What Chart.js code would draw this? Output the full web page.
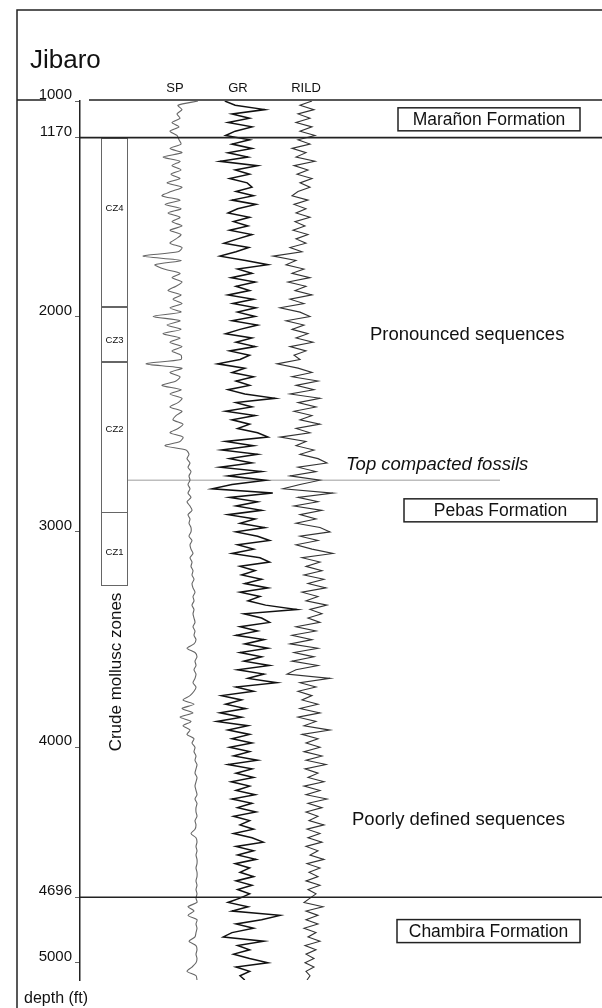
<!DOCTYPE html>
<html>
<head>
<meta charset="utf-8">
<script src="https://cdn.jsdelivr.net/npm/chart.js@4.4.1/dist/chart.umd.min.js"></script>
<style>
  body { margin: 0; background: #fff; }
  canvas { display: block; }
</style>
</head>
<body>
<canvas id="log-chart" width="602" height="1008"></canvas>
<script>
// well Jibaro, logs sampled every 20 ft from 1000 ft down
const wellName = "Jibaro";
const depthTop = 1000;
const depthStep = 20;
const depthTicks = [1000, 1170, 2000, 3000, 4000, 4696, 5000];

// SP (mV, relative to shale baseline)
const sp = [
  8, -12, -8, -13, -10, -18, -11, -20, -13, -11,
  -9, -20, -8, -27, -10, -18, -9, -19, -10, -23,
  -8, -19, -28, -10, -25, -9, -22, -10, -18, -8,
  -20, -9, -14, -20, -8, -12, -47, -9, -35, -26,
  -10, -18, -8, -14, -22, -9, -17, -8, -20, -9,
  -37, -10, -23, -9, -27, -10, -20, -8, -18, -9,
  -9, -44, -8, -20, -10, -14, -28, -9, -20, -8,
  -12, -20, -8, -14, -17, -7, -12, -20, -7, -10,
  -25, -4, -1, -3, 0, -2, 1, -1, 0, -2,
  0, -2, 1, -3, 0, 2, -2, 0, -1, 1,
  1, -1, 2, 0, 1, 3, 0, 2, 1, 3,
  2, 4, 2, 3, 5, 3, 4, 2, 4, 3,
  4, 5, 3, 5, 4, 6, 4, -3, 5, 7,
  5, 6, 4, 6, 5, 3, 6, 4, 0, -7,
  4, -8, 3, -10, 1, -7, 0, -3, 4, 2,
  5, 4, 6, 5, 7, 6, 5, 7, 6, 5,
  6, 7, 5, 7, 6, 6, 7, 5, 6, 5,
  1, 6, 7, 6, 7, 6, 7, 7, 6, 7,
  7, 6, 7, 6, 7, 6, 7, -2, 4, -2,
  7, 6, 7, 6, 5, -1, 6, 7, 6, 7,
  6, 2, -3, 6, 7
];

// GR (API)
const gr = [
  81, 94, 131, 90, 112, 85, 115, 94, 82, 112,
  90, 115, 85, 110, 75, 122, 94, 112, 87, 109,
  115, 95, 117, 90, 120, 97, 85, 112, 92, 110,
  87, 115, 97, 80, 111, 95, 75, 107, 135, 97,
  115, 89, 119, 95, 112, 85, 117, 91, 120, 97,
  119, 90, 122, 100, 82, 115, 95, 119, 87, 112,
  100, 72, 106, 90, 117, 95, 112, 85, 106, 144,
  95, 115, 82, 119, 90, 112, 97, 122, 135, 82,
  117, 77, 122, 87, 115, 75, 127, 85, 132, 90,
  65, 141, 87, 122, 95, 127, 85, 119, 100, 131,
  95, 122, 137, 97, 117, 90, 125, 137, 100, 119,
  102, 127, 106, 135, 100, 125, 110, 132, 171, 105,
  127, 137, 100, 122, 95, 130, 106, 135, 100, 127,
  105, 137, 97, 130, 110, 146, 95, 117, 77, 102,
  82, 107, 75, 102, 71, 110, 85, 112, 90, 115,
  87, 112, 92, 122, 85, 115, 95, 117, 89, 112,
  95, 119, 90, 115, 97, 120, 92, 112, 100, 117,
  92, 115, 129, 95, 117, 97, 120, 94, 112, 100,
  117, 95, 115, 97, 112, 100, 85, 110, 90, 150,
  127, 95, 117, 90, 79, 130, 97, 112, 92, 112,
  135, 95, 112, 100, 106
];

// RILD (ohm.m)
const rild = [
  20.8, 16, 21.6, 15.2, 20, 14.4, 20.8, 16, 22, 15.2,
  20, 12.8, 18.4, 14.4, 22, 13.6, 19.2, 14.8, 20.8, 16,
  20, 15.2, 12.8, 19.2, 13.6, 18.4, 14.4, 20, 14, 18,
  13.2, 19.2, 14.4, 18.4, 12, 16.8, 5.2, 14.4, 10.4, 17.6,
  12.8, 20, 11.2, 18.4, 14, 20.8, 12, 17.6, 8, 16,
  20, 10.4, 17.6, 12.8, 19.2, 14.4, 21.2, 12, 18.4, 13.6,
  16, 6.8, 15.2, 20.8, 12.8, 23.2, 14.4, 21.6, 12, 24,
  15.2, 22.4, 13.6, 20.8, 16, 24, 14.4, 20, 8, 18.4,
  14.4, 21.6, 16, 23.2, 26.8, 15.2, 22.4, 12, 24, 16,
  9.2, 29.2, 15.2, 23.2, 13.6, 24.8, 16, 22.4, 14.4, 24,
  28, 16, 23.2, 14.4, 20.8, 29.2, 16.8, 24, 18.4, 24.8,
  17.6, 25.6, 19.2, 26.4, 16.8, 23.2, 18.4, 26.8, 20, 24.8,
  19.2, 24, 14.4, 22.4, 12.8, 20.8, 12, 23.2, 13.6, 21.6,
  12.8, 23.2, 14.4, 10.8, 28, 16, 22.4, 15.2, 20.8, 16.8,
  23.2, 16, 24, 15.2, 22.4, 17.6, 28, 16.8, 23.2, 18.4,
  24, 17.6, 24.8, 18.4, 26.4, 18, 23.2, 19.2, 25.6, 17.6,
  24, 18.4, 26.8, 19.2, 24.8, 18.4, 23.2, 19.6, 25.6, 18.8,
  24, 19.2, 24.8, 18.4, 23.2, 20, 25.6, 18.8, 24, 19.6,
  23.2, 18.4, 24, 19.2, 22.4, 20, 17.6, 25.2, 18.4, 23.2,
  18.4, 23.2, 17.6, 22.4, 19.2, 24, 18, 22.4, 18.4, 21.6,
  18, 21.6, 18.4, 20, 18.8
];

const formationNames = ["Marañon Formation", "Pebas Formation", "Chambira Formation"];
const formationTops = [1000, 1170, 4696];
const zoneNames = ["CZ4", "CZ3", "CZ2", "CZ1"];
const zoneTops = [1170, 1953, 2210, 2907];
const zoneBases = [1953, 2210, 2907, 3248];
const fossilTop = 2760;

const depths = sp.map((_, i) => depthTop + i * depthStep);
const toPoints = (vals) => vals.map((v, i) => ({ x: v, y: depths[i] }));

const FONT = "'Liberation Sans', Arial, Helvetica, sans-serif";

const overlay = {
  id: "overlay",
  beforeDatasetsDraw(chart) {
    const ctx = chart.ctx;
    const y = chart.scales.y;
    ctx.save();
    // mollusc zone column
    ctx.strokeStyle = "#666";
    ctx.lineWidth = 1;
    ctx.fillStyle = "#111";
    ctx.font = "9.5px " + FONT;
    ctx.textAlign = "center";
    ctx.textBaseline = "middle";
    const labelAt = [0.42, 0.62, 0.45, 0.55]; // label height within each zone box
    zoneNames.forEach((name, i) => {
      const t = y.getPixelForValue(zoneTops[i]);
      const b = y.getPixelForValue(zoneBases[i]);
      ctx.strokeRect(101.5, Math.round(t) + 0.5, 26, Math.round(b - t));
      ctx.fillText(name, 114.5, t + (b - t) * labelAt[i]);
    });
    // top compacted fossils
    const fy = y.getPixelForValue(fossilTop);
    ctx.strokeStyle = "#bdbdbd";
    ctx.lineWidth = 1.5;
    ctx.beginPath();
    ctx.moveTo(128, fy);
    ctx.lineTo(500, fy);
    ctx.stroke();
    ctx.restore();
  },
  afterDatasetsDraw(chart) {
    const ctx = chart.ctx;
    const y = chart.scales.y;
    const area = chart.chartArea;
    ctx.save();
    // frame
    ctx.strokeStyle = "#222";
    ctx.lineWidth = 1.5;
    ctx.beginPath();
    ctx.moveTo(17, 1008);
    ctx.lineTo(17, 10);
    ctx.lineTo(602, 10);
    ctx.stroke();

    // formation tops
    ctx.lineWidth = 1.7;
    formationTops.forEach((d, i) => {
      const py = y.getPixelForValue(d);
      ctx.beginPath();
      if (i === 0) {
        ctx.moveTo(17, py - 1);
        ctx.lineTo(46, py - 1);
        ctx.moveTo(89, py - 1);
      } else {
        ctx.moveTo(area.left, py);
      }
      ctx.lineTo(602, i === 0 ? py - 1 : py);
      ctx.stroke();
    });

    // formation boxes
    const boxes = [
      { x: 398, w: 182, d: 1085 },
      { x: 404, w: 193, d: 2900 },
      { x: 397, w: 183, d: 4853 }
    ];
    ctx.font = "17.5px " + FONT;
    ctx.textAlign = "center";
    ctx.textBaseline = "middle";
    ctx.lineWidth = 1.5;
    formationNames.forEach((name, i) => {
      const b = boxes[i];
      const cy = y.getPixelForValue(b.d);
      ctx.fillStyle = "#fff";
      ctx.fillRect(b.x, cy - 11.5, b.w, 23);
      ctx.strokeRect(b.x, cy - 11.5, b.w, 23);
      ctx.fillStyle = "#111";
      ctx.fillText(name, b.x + b.w / 2, cy + 1);
    });

    // titles and notes
    ctx.fillStyle = "#111";
    ctx.textAlign = "left";
    ctx.textBaseline = "alphabetic";
    ctx.font = "26px " + FONT;
    ctx.fillText(wellName, 30, 68);
    ctx.font = "13px " + FONT;
    ctx.textAlign = "center";
    ctx.fillText("SP", 175, 92);
    ctx.fillText("GR", 238, 92);
    ctx.fillText("RILD", 306, 92);
    ctx.textAlign = "left";
    ctx.font = "18.5px " + FONT;
    ctx.fillText("Pronounced sequences", 370, y.getPixelForValue(2077) + 7);
    ctx.fillText("Poorly defined sequences", 352, y.getPixelForValue(4327) + 7);
    ctx.font = "italic 18.5px " + FONT;
    ctx.fillText("Top compacted fossils", 346, y.getPixelForValue(2680) + 7);
    ctx.font = "16px " + FONT;
    ctx.fillText("depth (ft)", 24, 1003);
    ctx.save();
    ctx.translate(121, 672);
    ctx.rotate(-Math.PI / 2);
    ctx.textAlign = "center";
    ctx.font = "17px " + FONT;
    ctx.fillText("Crude mollusc zones", 0, 0);
    ctx.restore();
    ctx.restore();
  }
};

new Chart(document.getElementById("log-chart"), {
  type: "scatter",
  data: {
    datasets: [
      {
        label: "SP",
        data: toPoints(sp),
        xAxisID: "xsp",
        showLine: true,
        borderColor: "#666",
        borderWidth: 1.1,
        tension: 0.25,
        pointRadius: 0,
      },
      {
        label: "GR",
        data: toPoints(gr),
        xAxisID: "xgr",
        showLine: true,
        borderColor: "#111",
        borderWidth: 1.5,
        pointRadius: 0,
      },
      {
        label: "RILD",
        data: toPoints(rild),
        xAxisID: "xrild",
        showLine: true,
        borderColor: "#333",
        borderWidth: 1.1,
        pointRadius: 0,
      },
    ],
  },
  options: {
    responsive: false,
    animation: false,
    devicePixelRatio: 1,
    layout: { padding: { top: 101, bottom: 28, left: 0, right: 0 } },
    plugins: { legend: { display: false }, tooltip: { enabled: false } },
    scales: {
      // each track has its own hidden scale, placed so the logs sit side by side
      xsp: { type: "linear", display: false, min: -110, max: 412 },
      xgr: { type: "linear", display: false, min: -100, max: 552.5 },
      xrild: { type: "linear", display: false, min: -72, max: 136.8 },
      y: {
        type: "linear",
        reverse: true,
        min: 1000,
        max: 5080,
        afterFit: (scale) => { scale.width = 80; },
        afterBuildTicks: (scale) => {
          scale.ticks = depthTicks.map((v) => ({ value: v }));
        },
        border: { display: true, color: "#222", width: 1.5 },
        grid: { drawOnChartArea: false, drawTicks: true, tickLength: 5, color: "#666" },
        ticks: {
          callback: (v) => String(v),
          color: "#111",
          font: { size: 15, family: FONT },
          padding: 3,
          labelOffset: -6,
        },
      },
    },
  },
  plugins: [overlay],
});
</script>
</body>
</html>
